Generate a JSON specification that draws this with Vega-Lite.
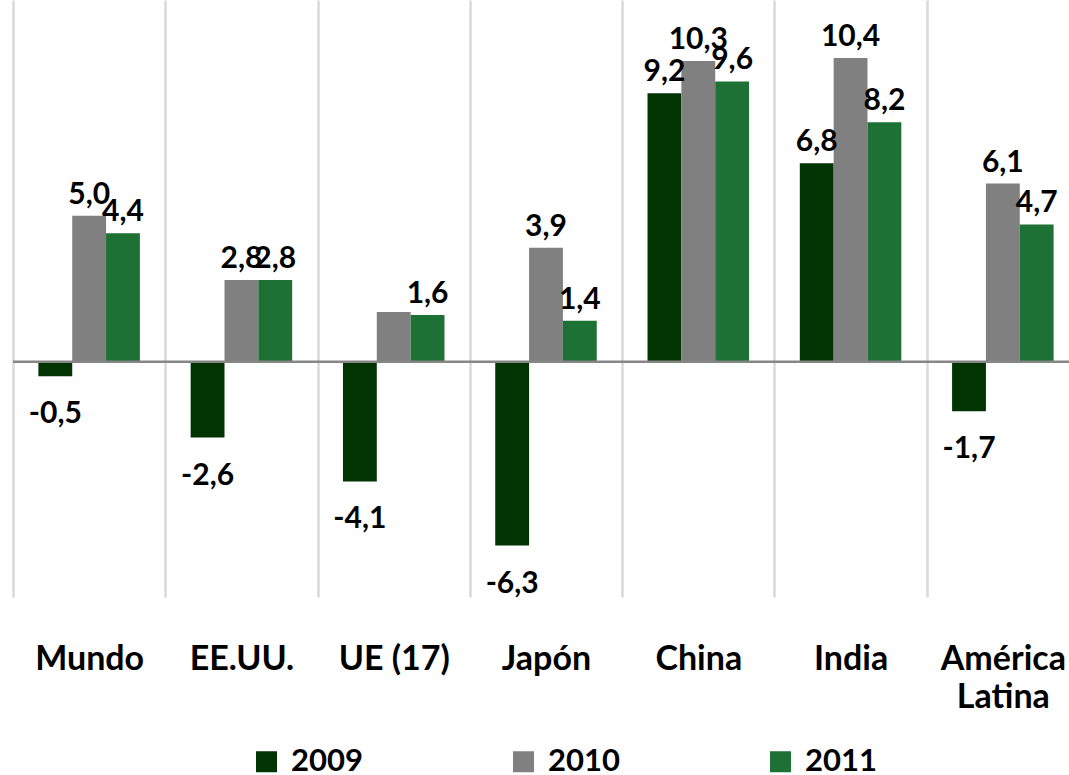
{
  "$schema": "https://vega.github.io/schema/vega-lite/v6.json",
  "width": 1056,
  "height": 597,
  "autosize": {"type": "none"},
  "padding": {"left": 13, "top": 0, "right": 0, "bottom": 178},
  "background": "#ffffff",
  "config": {
    "view": {"stroke": null},
    "font": "Lato",
    "locale": {"number": {"decimal": ",", "thousands": ".", "grouping": [3], "currency": ["", " €"], "minus": "-"}}
  },
  "data": {
    "values": [
      {"region": "Mundo", "year": "2009", "value": -0.5},
      {"region": "Mundo", "year": "2010", "value": 5.0},
      {"region": "Mundo", "year": "2011", "value": 4.4},
      {"region": "EE.UU.", "year": "2009", "value": -2.6},
      {"region": "EE.UU.", "year": "2010", "value": 2.8},
      {"region": "EE.UU.", "year": "2011", "value": 2.8},
      {"region": "UE (17)", "year": "2009", "value": -4.1},
      {"region": "UE (17)", "year": "2010", "value": 1.7},
      {"region": "UE (17)", "year": "2011", "value": 1.6},
      {"region": "Japón", "year": "2009", "value": -6.3},
      {"region": "Japón", "year": "2010", "value": 3.9},
      {"region": "Japón", "year": "2011", "value": 1.4},
      {"region": "China", "year": "2009", "value": 9.2},
      {"region": "China", "year": "2010", "value": 10.3},
      {"region": "China", "year": "2011", "value": 9.6},
      {"region": "India", "year": "2009", "value": 6.8},
      {"region": "India", "year": "2010", "value": 10.4},
      {"region": "India", "year": "2011", "value": 8.2},
      {"region": "América Latina", "year": "2009", "value": -1.7},
      {"region": "América Latina", "year": "2010", "value": 6.1},
      {"region": "América Latina", "year": "2011", "value": 4.7}
    ]
  },
  "layer": [
    {
      "mark": {"type": "bar"},
      "encoding": {
        "x": {
          "field": "region", "type": "nominal",
          "sort": ["Mundo", "EE.UU.", "UE (17)", "Japón", "China", "India", "América Latina"],
          "scale": {"range": [0, 1066], "paddingInner": 0, "paddingOuter": 0},
          "axis": {
            "title": null, "domain": false, "ticks": false, "grid": true, "tickBand": "extent",
            "gridColor": "#d9d9d9", "gridWidth": 2.5,
            "labelFontSize": 34, "labelFont": "Lato", "labelFontWeight": "bold", "labelColor": "#000000",
            "labelPadding": 72, "labelBaseline": "alphabetic", "labelLineHeight": 38, "labelAngle": 0,
            "labelOverlap": false, "labelBound": false, "labelLimit": 0,
            "labelExpr": "datum.label == 'América Latina' ? ['América', 'Latina'] : datum.label"
          }
        },
        "xOffset": {"field": "year", "type": "nominal", "scale": {"paddingInner": 0, "paddingOuter": 0.75}},
        "y": {"field": "value", "type": "quantitative", "scale": {"domain": [-8.06, 12.39], "nice": false, "zero": false}, "axis": null},
        "color": {
          "field": "year", "type": "nominal",
          "scale": {"domain": ["2009", "2010", "2011"], "range": ["#023302", "#808080", "#1e7134"]},
          "legend": {
            "orient": "none", "legendX": 238, "legendY": 746, "direction": "horizontal", "title": null,
            "symbolType": "square", "symbolSize": 441, "symbolStrokeWidth": 0, "symbolOpacity": 1,
            "labelFontSize": 31, "labelFont": "Lato", "labelFontWeight": "bold", "labelColor": "#000000",
            "labelOffset": 9, "columnPadding": 145
          }
        }
      }
    },
    {
      "data": {"values": [{"zero": 0}]},
      "mark": {"type": "rule", "color": "#868686", "strokeWidth": 2.5},
      "encoding": {"y": {"field": "zero", "type": "quantitative", "axis": null}}
    },
    {
      "transform": [
        {"filter": "datum.value >= 0"},
        {"filter": {"not": {"and": [{"field": "region", "equal": "UE (17)"}, {"field": "year", "equal": "2010"}]}}}
      ],
      "mark": {"type": "text", "baseline": "alphabetic", "dy": -12, "fontSize": 30, "font": "Lato", "fontWeight": "bold", "color": "#000000"},
      "encoding": {
        "x": {"field": "region", "type": "nominal", "sort": ["Mundo", "EE.UU.", "UE (17)", "Japón", "China", "India", "América Latina"]},
        "xOffset": {"field": "year", "type": "nominal"},
        "y": {"field": "value", "type": "quantitative", "axis": null},
        "text": {"field": "value", "type": "quantitative", "format": ".1f"}
      }
    },
    {
      "transform": [{"filter": "datum.value < 0"}],
      "mark": {"type": "text", "baseline": "alphabetic", "dy": 47, "fontSize": 30, "font": "Lato", "fontWeight": "bold", "color": "#000000"},
      "encoding": {
        "x": {"field": "region", "type": "nominal", "sort": ["Mundo", "EE.UU.", "UE (17)", "Japón", "China", "India", "América Latina"]},
        "xOffset": {"field": "year", "type": "nominal"},
        "y": {"field": "value", "type": "quantitative", "axis": null},
        "text": {"field": "value", "type": "quantitative", "format": ".1f"}
      }
    }
  ]
}
